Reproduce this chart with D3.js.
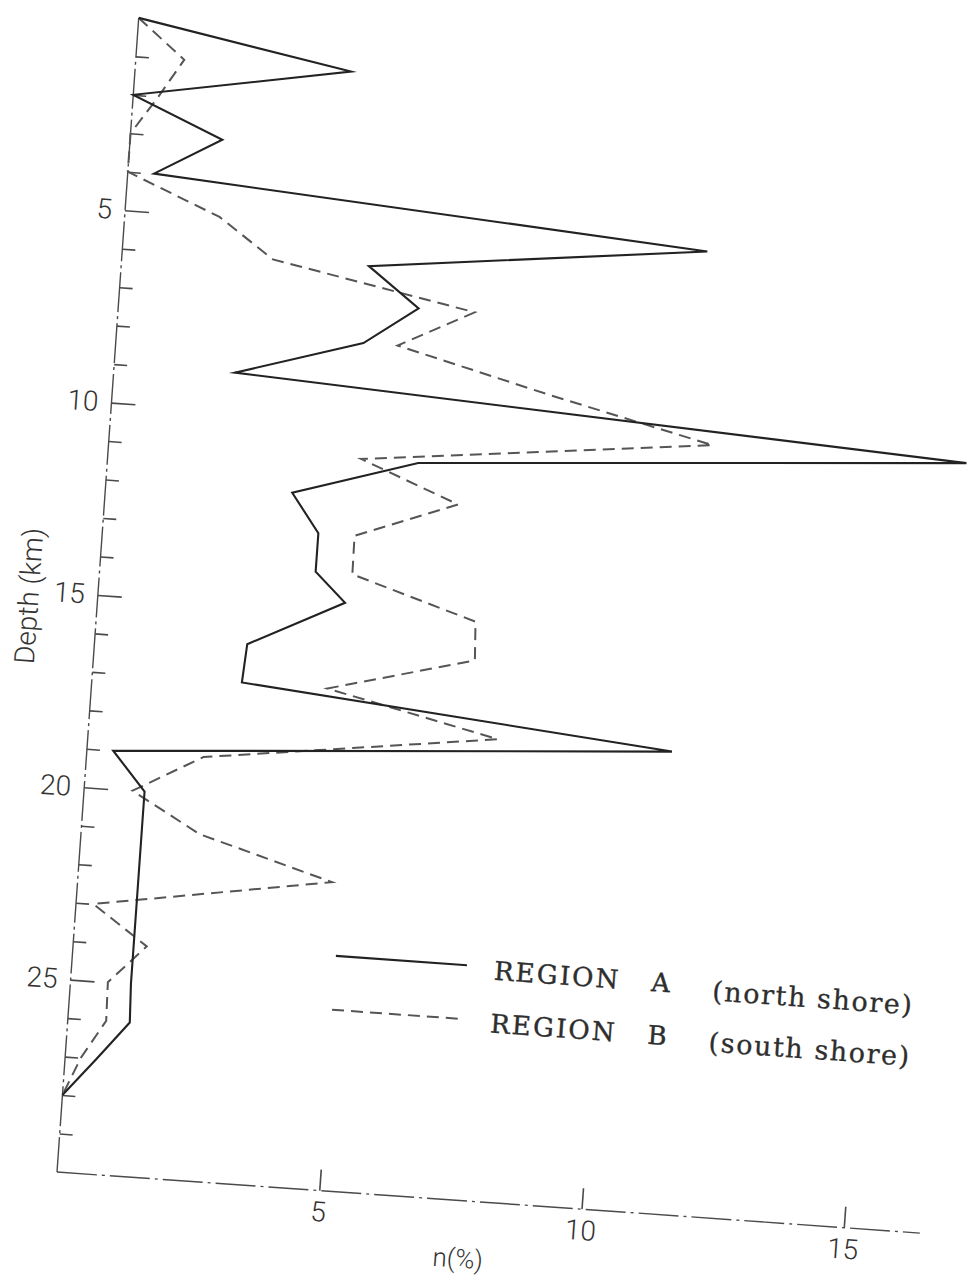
<!DOCTYPE html>
<html>
<head>
<meta charset="utf-8">
<script src="https://cdn.jsdelivr.net/npm/d3@7"></script>
<style>
html, body { margin: 0; padding: 0; background: #fff; }
svg { display: block; }
</style>
</head>
<body>
<svg id="chart" width="972" height="1278"></svg>
<script>
// ---- Data ----
// Region A (north shore): depth in km, n in %
const depthsA = [0, 1, 2, 3, 4, 5, 6, 7, 8, 9, 10, 11, 12, 13, 14, 14.75, 16, 17, 18, 19, 20, 21, 22, 23, 24, 25, 26, 27, 28];
const valuesA = [0, 4.1, 0, 1.75, 0.5, 11.1, 4.7, 5.7, 4.7, 2.3, 16.3, 5.9, 3.55, 4.1, 4.1, 4.7, 2.9, 2.85, 11.1, 0.5, 1.15, 1.15, 1.15, 1.15, 1.15, 1.15, 1.18, 0.6, 0];
// Region B (south shore)
const depthsB = [0, 1, 2, 3, 4, 5, 6, 7, 8, 9, 10, 11, 12, 13, 14, 15, 16, 17, 18, 19, 20, 21, 22, 23, 24, 25, 26, 27, 28];
const valuesB = [0, 0.92, 0.48, 0, 0, 1.8, 2.87, 6.77, 5.35, 8.3, 11.46, 4.81, 6.71, 4.79, 4.8, 7.2, 7.24, 4.48, 7.78, 2.22, 0.92, 2.25, 4.83, 0.33, 1.4, 0.71, 0.73, 0.3, 0];

const seriesNames = ["REGION A", "REGION B"];
const seriesNotes = ["(north shore)", "(south shore)"];

// Axis ticks
const depthMinorTicks = [1, 2, 3, 4, 6, 7, 8, 9, 11, 12, 13, 14, 16, 17, 18, 19, 21, 22, 23, 24, 26, 27, 28, 29];
const depthMajorTicks = [5, 10, 15, 20, 25];
const nTicks = [5, 10, 15];
const xTitle = "n(%)";
const yTitle = "Depth (km)";

// ---- Layout ----
const svg = d3.select("#chart");
const origin = { x: 57, y: 1172 };
const tilt = 4.05; // the scanned figure is slightly rotated

const x = d3.scaleLinear().domain([0, 16.45]).range([0, 865]);
const y = d3.scaleLinear().domain([0, 30]).range([-1157, 0]);

const g = svg.append("g")
  .attr("transform", `translate(${origin.x},${origin.y}) rotate(${tilt})`);

const axisColor = "#4a4a4a";
const numFont = "Roboto, 'Liberation Sans', Arial, sans-serif";

// y axis line
g.append("line")
  .attr("x1", 0).attr("x2", 0)
  .attr("y1", y(0)).attr("y2", y(30))
  .attr("stroke", axisColor).attr("stroke-width", 1.4)
  .attr("stroke-dasharray", "40 4 3 4");

// x axis line
g.append("line")
  .attr("x1", x(0)).attr("x2", x(16.45))
  .attr("y1", 0).attr("y2", 0)
  .attr("stroke", axisColor).attr("stroke-width", 1.4)
  .attr("stroke-dasharray", "40 5 3 5");

function styleTicks(sel) {
  sel.select(".domain").remove();
  sel.selectAll(".tick line").attr("stroke", axisColor).attr("stroke-width", 1.6);
}

// y ticks (inside)
g.append("g").call(d3.axisRight(y).tickValues(depthMinorTicks).tickSize(13).tickFormat(""))
  .call(styleTicks);
g.append("g").call(d3.axisRight(y).tickValues(depthMajorTicks).tickSize(24).tickFormat(""))
  .call(styleTicks);
// y labels
g.append("g").call(d3.axisLeft(y).tickValues(depthMajorTicks).tickSize(0).tickPadding(13).tickFormat(d3.format("d")))
  .call(s => {
    s.select(".domain").remove();
    s.selectAll("text").attr("font-family", numFont).attr("font-weight", 300)
      .attr("font-size", 28).attr("fill", "#333");
  });

// x ticks (inside, upward)
g.append("g").call(d3.axisTop(x).tickValues(nTicks).tickSize(21).tickFormat(""))
  .call(styleTicks);
// x labels
g.append("g").call(d3.axisBottom(x).tickValues(nTicks).tickSize(0).tickPadding(11).tickFormat(d3.format("d")))
  .call(s => {
    s.select(".domain").remove();
    s.selectAll("text").attr("font-family", numFont).attr("font-weight", 300)
      .attr("font-size", 28).attr("fill", "#333");
  });

// axis titles
g.append("text")
  .attr("x", x(7.72)).attr("y", 67)
  .attr("text-anchor", "middle")
  .attr("font-family", numFont).attr("font-weight", 300)
  .attr("font-size", 26).attr("fill", "#333")
  .text(xTitle);

g.append("text")
  .attr("transform", `translate(-59,${y(15.15)}) rotate(-90)`)
  .attr("text-anchor", "middle")
  .attr("font-family", numFont).attr("font-weight", 300)
  .attr("font-size", 28).attr("fill", "#333")
  .text(yTitle);

// ---- Series ----
const line = d3.line().x(d => x(d.v)).y(d => y(d.d));
const dataA = depthsA.map((d, i) => ({ d, v: valuesA[i] }));
const dataB = depthsB.map((d, i) => ({ d, v: valuesB[i] }));

const styles = [
  { stroke: "#222", width: 2.1, dash: null },
  { stroke: "#555", width: 2.0, dash: "12 7" }
];

g.append("path").datum(dataB)
  .attr("d", line).attr("fill", "none")
  .attr("stroke", styles[1].stroke).attr("stroke-width", styles[1].width)
  .attr("stroke-dasharray", styles[1].dash)
  .attr("stroke-linejoin", "miter").attr("stroke-miterlimit", 6);

g.append("path").datum(dataA)
  .attr("d", line).attr("fill", "none")
  .attr("stroke", styles[0].stroke).attr("stroke-width", styles[0].width)
  .attr("stroke-linejoin", "miter").attr("stroke-miterlimit", 6);

// ---- Legend ----
const legendRows = [
  { line: 23.9, base: 24.23, note: 24.36 },
  { line: 25.3, base: 25.6, note: 25.69 }
];
const serifFont = "'DejaVu Serif', 'Liberation Serif', serif";
legendRows.forEach((r, i) => {
  g.append("line")
    .attr("x1", x(5.0)).attr("x2", x(7.5))
    .attr("y1", y(r.line)).attr("y2", y(r.line))
    .attr("stroke", styles[i].stroke).attr("stroke-width", styles[i].width)
    .attr("stroke-dasharray", styles[i].dash);
  const parts = seriesNames[i].split(" ");
  g.append("text")
    .attr("x", x(8.02)).attr("y", y(r.base))
    .attr("font-family", serifFont).attr("font-size", 26)
    .attr("letter-spacing", 2.2).attr("fill", "#2e2e2e")
    .attr("stroke", "#2e2e2e").attr("stroke-width", 0.4)
    .text(parts[0]);
  g.append("text")
    .attr("x", x(11.02)).attr("y", y(r.base))
    .attr("font-family", serifFont).attr("font-size", 26)
    .attr("fill", "#2e2e2e")
    .attr("stroke", "#2e2e2e").attr("stroke-width", 0.4)
    .text(parts[1]);
  g.append("text")
    .attr("x", x(12.19)).attr("y", y(r.note))
    .attr("font-family", serifFont).attr("font-size", 27)
    .attr("letter-spacing", 1.6).attr("fill", "#2e2e2e")
    .attr("stroke", "#2e2e2e").attr("stroke-width", 0.3)
    .text(seriesNotes[i]);
});
</script>
</body>
</html>
